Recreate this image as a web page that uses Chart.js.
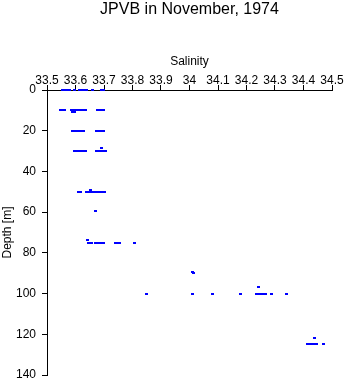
<!DOCTYPE html>
<html>
<head>
<meta charset="utf-8">
<title>JPVB in November, 1974</title>
<script src="https://cdn.jsdelivr.net/npm/chart.js@4/dist/chart.umd.min.js"></script>
<style>
  html, body { margin: 0; padding: 0; background: #ffffff; }
  canvas { display: block; }
</style>
</head>
<body>
<canvas id="chart" width="346" height="384"></canvas>
<script>
// Bottle samples: salinity and depth (m), paired by index
const salinity = [
  // 0 m
  33.555, 33.560, 33.565, 33.570, 33.580, 33.598, 33.615, 33.620, 33.625, 33.630, 33.637, 33.658, 33.690, 33.697,
  // 10 m
  33.547, 33.552, 33.558, 33.563, 33.585, 33.590, 33.595, 33.600, 33.605, 33.610, 33.615, 33.620, 33.625, 33.630, 33.635,
  33.677, 33.682, 33.688, 33.693, 33.699, 33.588, 33.598,
  // 20 m
  33.590, 33.595, 33.600, 33.605, 33.610, 33.615, 33.620, 33.625, 33.628, 33.674, 33.680, 33.685, 33.690, 33.697,
  // 30 m
  33.597, 33.600, 33.605, 33.610, 33.615, 33.620, 33.625, 33.630, 33.636, 33.674, 33.680, 33.685, 33.690, 33.695, 33.700, 33.706,
  33.690,
  // 50 m
  33.611, 33.619, 33.638, 33.641, 33.650, 33.655, 33.660, 33.665, 33.670, 33.675, 33.680, 33.685, 33.690, 33.695, 33.700,
  33.652,
  // 60 m
  33.670,
  // 75 m
  33.643, 33.646, 33.652, 33.657, 33.669, 33.674, 33.680, 33.686, 33.692, 33.698, 33.742, 33.748, 33.753, 33.806,
  // 90 m
  34.012, 34.015,
  // 100 m
  34.241, 33.848, 34.010, 34.080, 34.178, 34.234, 34.240, 34.246, 34.252, 34.257, 34.266, 34.287, 34.340,
  // 125 m
  34.438, 34.414, 34.420, 34.426, 34.432, 34.438, 34.444, 34.470
];
const depth = [
  0, 0, 0, 0, 0, 0, 0, 0, 0, 0, 0, 0, 0, 0,
  10, 10, 10, 10, 10, 10, 10, 10, 10, 10, 10, 10, 10, 10, 10,
  10, 10, 10, 10, 10, 11, 11,
  20, 20, 20, 20, 20, 20, 20, 20, 20, 20, 20, 20, 20, 20,
  30, 30, 30, 30, 30, 30, 30, 30, 30, 30, 30, 30, 30, 30, 30, 30,
  28.5,
  50, 50, 50, 50, 50, 50, 50, 50, 50, 50, 50, 50, 50, 50, 50,
  49,
  59.5,
  73.5, 75, 75, 75, 75, 75, 75, 75, 75, 75, 75, 75, 75, 75,
  89.5, 90,
  96.9, 100, 100, 100, 100, 100, 100, 100, 100, 100, 100, 100, 100,
  121.8, 125, 125, 125, 125, 125, 125, 125
];

// Axis ticks
const salinityTicks = [33.5, 33.6, 33.7, 33.8, 33.9, 34.0, 34.1, 34.2, 34.3, 34.4, 34.5];
const depthTicks = [0, 20, 40, 60, 80, 100, 120, 140];

const points = salinity.map((s, i) => ({ x: s, y: depth[i] }));

// Small 3x2 blue block used as the sample marker
const marker = document.createElement('canvas');
marker.width = 3;
marker.height = 2;
const mctx = marker.getContext('2d');
mctx.fillStyle = '#0000ff';
mctx.fillRect(0, 0, 3, 2);

const FONT = '"Liberation Sans", Arial, Helvetica, sans-serif';
const HEADING_H = 20;   // band holding the chart heading
const PLOT_TOP = 90;
const PLOT_LEFT = 47;

new Chart(document.getElementById('chart'), {
  type: 'scatter',
  data: {
    datasets: [{
      data: points,
      xAxisID: 'x',
      yAxisID: 'y',
      pointStyle: marker,
      pointRadius: 2,
      borderWidth: 0,
      backgroundColor: '#0000ff',
      clip: false
    }]
  },
  options: {
    responsive: false,
    animation: false,
    devicePixelRatio: 1,
    events: [],
    layout: { padding: { left: 0, right: 14, top: 0, bottom: 9 } },
    plugins: {
      legend: { display: false },
      tooltip: { enabled: false },
      title: { display: false }
    },
    scales: {
      // empty top band whose title is the chart heading, centred over the plot
      heading: {
        type: 'linear',
        position: 'top',
        weight: 10,
        min: 0,
        max: 1,
        ticks: { display: false },
        grid: { display: false, drawTicks: false },
        border: { display: false },
        afterFit: (scale) => {
          scale.height = HEADING_H;
          scale.paddingLeft = 0;
          scale.paddingRight = 0;
        },
        title: {
          display: true,
          text: 'JPVB in November, 1974',
          color: '#000000',
          font: { family: FONT, size: 16, weight: 'normal' },
          padding: { top: 0, bottom: 0 }
        }
      },
      x: {
        type: 'linear',
        position: 'top',
        weight: 0,
        min: 33.5,
        max: 34.5,
        afterBuildTicks: (scale) => { scale.ticks = salinityTicks.map(v => ({ value: v })); },
        afterFit: (scale) => {
          scale.height = PLOT_TOP - HEADING_H;
          scale.paddingLeft = 0;
          scale.paddingRight = 0;
        },
        title: {
          display: true,
          text: 'Salinity',
          color: '#000000',
          font: { family: FONT, size: 12 },
          padding: { top: 34, bottom: 0 }
        },
        ticks: {
          color: '#000000',
          font: { family: FONT, size: 12 },
          autoSkip: false,
          maxRotation: 0,
          padding: -3,
          callback: (v) => String(Number(v.toFixed(1)))
        },
        grid: { drawOnChartArea: false, drawTicks: true, tickLength: 5, color: '#000000' },
        border: { display: true, color: '#000000', width: 1 }
      },
      y: {
        type: 'linear',
        reverse: true,
        min: 0,
        max: 140,
        afterBuildTicks: (scale) => { scale.ticks = depthTicks.map(v => ({ value: v })); },
        afterFit: (scale) => {
          scale.width = PLOT_LEFT;
          scale.paddingTop = 0;
          scale.paddingBottom = 0;
        },
        title: {
          display: true,
          text: 'Depth [m]',
          color: '#000000',
          font: { family: FONT, size: 12 },
          padding: { top: 0, bottom: 0 }
        },
        ticks: {
          color: '#000000',
          font: { family: FONT, size: 12 },
          autoSkip: false,
          padding: 6
        },
        grid: { drawOnChartArea: false, drawTicks: true, tickLength: 5, color: '#000000' },
        border: { display: true, color: '#000000', width: 1 }
      }
    }
  }
});
</script>
</body>
</html>
